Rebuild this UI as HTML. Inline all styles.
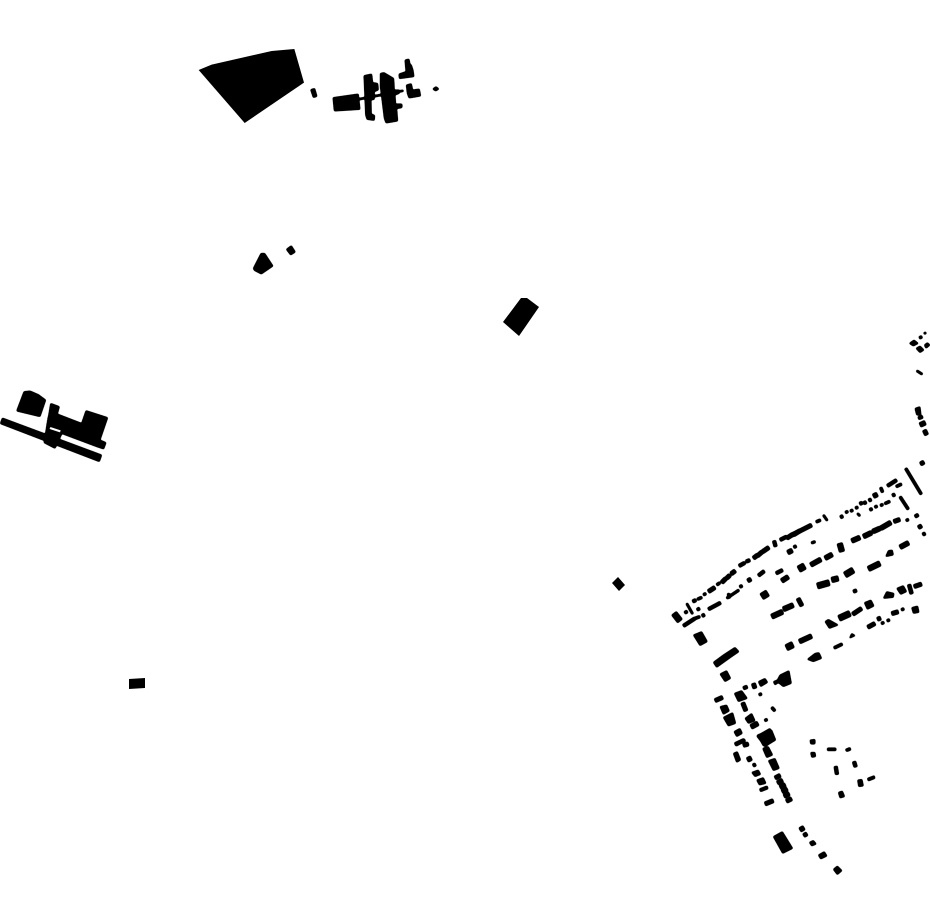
<!DOCTYPE html>
<html><head><meta charset="utf-8"><title>Figure-ground map</title>
<style>html,body{margin:0;padding:0;background:#fff;width:930px;height:924px;overflow:hidden}svg{display:block}path{fill:none;stroke:#000}polygon{fill:#000}</style></head>
<body>
<svg width="930" height="924" viewBox="0 0 930 924" xmlns="http://www.w3.org/2000/svg">
<defs><filter id="grow" filterUnits="userSpaceOnUse" x="0" y="0" width="930" height="924" color-interpolation-filters="sRGB"><feGaussianBlur stdDeviation="0.7"/><feComponentTransfer><feFuncA type="linear" slope="4" intercept="-0.4"/></feComponentTransfer></filter></defs>
<rect width="930" height="924" fill="#fff"/>
<polygon points="612,583 618,577 625,585 619,591"/>
<polygon points="129,679 145,678 145,688 129,689"/>
<polygon points="503,322 521,298 527,298 539,307 519,336"/>
<g transform="translate(190,40) scale(.33333)">
<polygon points="26,90 65,74 245,33 313,27 342,128 164,249"/>
</g>

<g filter="url(#grow)">
<g transform="translate(190,40) scale(.33333)">
<polygon points="362,149 374,145 381,169 370,173"/>
<polygon points="429,173 505,162 510,208 433,213"/>
<path d="M505 178L640 152" stroke-width="5"/>
<polygon points="522,107 545,102 548,128 563,130 565,150 553,155 553,178 543,180 544,222 554,226 553,241 531,238 527,225"/>
<polygon points="571,100 582,98 611,115 613,150 628,150 628,160 615,165 617,192 636,192 636,203 620,206 623,243 588,249 583,235 576,178 571,140"/>
<polygon points="645,60 657,57 660,72 664,75 669,90 672,110 628,116 627,102 648,95"/>
<polygon points="649,135 664,131 668,150 688,147 692,168 657,174 652,160"/>
<polygon points="728,147 738,140 747,147 737,153"/>
<polygon points="190,685 213,640 224,640 249,678 214,702 193,691"/>
<polygon points="289,628 304,617 316,636 302,645"/>
</g>

<g transform="translate(0,380) scale(.33333)">
<polygon points="7,114 305,225 298,245 1,131"/>
<polygon points="72,35 90,33 115,44 137,60 120,110 50,93"/>
<polygon points="152,70 178,80 172,102 245,130 258,92 323,113 300,180 318,188 311,207 290,200 192,163 140,140 148,95"/>
<polygon points="145,110 200,130 165,205 132,188"/>
</g>

<g transform="translate(670,510) scale(.33333)">
<path d="M12 310L30 333" stroke-width="18"/>
<path d="M50 280L68 312" stroke-width="6"/>
<path d="M44 309L52 304" stroke-width="9"/>
<path d="M81 300L89 295" stroke-width="9"/>
<path d="M68 275L78 270" stroke-width="10"/>
<path d="M82 268L96 262" stroke-width="8"/>
<path d="M100 255L108 250" stroke-width="8"/>
<path d="M115 245L135 232" stroke-width="12"/>
<path d="M140 225L150 218" stroke-width="8"/>
<path d="M155 218L168 205" stroke-width="12"/>
<path d="M170 205L180 195" stroke-width="12"/>
<path d="M183 192L196 182" stroke-width="12"/>
<path d="M207 168L225 158" stroke-width="10"/>
<path d="M228 155L240 150" stroke-width="10"/>
<path d="M250 145L263 135" stroke-width="12"/>
<path d="M262 138L277 125" stroke-width="12"/>
<path d="M278 125L297 112" stroke-width="12"/>
<path d="M312 92L317 110" stroke-width="10"/>
<path d="M330 90L350 80" stroke-width="10"/>
<path d="M350 85L370 72" stroke-width="12"/>
<path d="M370 75L390 62" stroke-width="12"/>
<path d="M40 348L75 325" stroke-width="10"/>
<path d="M75 325L90 320" stroke-width="8"/>
<path d="M96 318L104 314" stroke-width="10"/>
<path d="M115 298L152 278" stroke-width="10"/>
<path d="M170 265L207 240" stroke-width="7"/>
<path d="M175 250L178 265" stroke-width="7"/>
<path d="M209 231L217 227" stroke-width="9"/>
<path d="M233 213L243 207" stroke-width="12"/>
<path d="M265 197L283 183" stroke-width="10"/>
<path d="M318 190L338 180" stroke-width="10"/>
<path d="M335 213L355 200" stroke-width="14"/>
<path d="M353 128L367 121" stroke-width="14"/>
<path d="M371 112L379 108" stroke-width="9"/>
<path d="M275 260L293 249" stroke-width="20"/>
</g>

<g transform="translate(790,460) scale(.33333)">
<path d="M347 25L394 103" stroke-width="8"/>
<path d="M330 110L355 148" stroke-width="8"/>
<path d="M292 78L320 60" stroke-width="10"/>
<path d="M318 80L335 72" stroke-width="8"/>
<path d="M391 12L400 8" stroke-width="10"/>
<path d="M151 172L159 168" stroke-width="10"/>
<path d="M166 158L174 154" stroke-width="8"/>
<path d="M181 154L189 150" stroke-width="8"/>
<path d="M196 145L204 141" stroke-width="8"/>
<path d="M209 132L217 128" stroke-width="10"/>
<path d="M221 130L229 126" stroke-width="10"/>
<path d="M236 122L244 118" stroke-width="10"/>
<path d="M250 109L262 103" stroke-width="14"/>
<path d="M272 82L278 97" stroke-width="8"/>
<path d="M202 160L210 168" stroke-width="6"/>
<path d="M239 150L247 146" stroke-width="9"/>
<path d="M254 142L262 138" stroke-width="8"/>
<path d="M271 137L279 133" stroke-width="8"/>
<path d="M284 131L300 124" stroke-width="8"/>
<path d="M307 107L315 103" stroke-width="10"/>
<path d="M185 243L210 232" stroke-width="14"/>
<path d="M220 230L245 218" stroke-width="14"/>
<path d="M248 215L270 205" stroke-width="14"/>
<path d="M272 205L303 187" stroke-width="14"/>
<path d="M311 185L330 178" stroke-width="12"/>
<path d="M348 182L356 178" stroke-width="8"/>
<path d="M375 170L385 164" stroke-width="10"/>
<path d="M385 203L395 197" stroke-width="12"/>
<path d="M398 224L406 220" stroke-width="10"/>
<path d="M149 250L156 275" stroke-width="16"/>
<path d="M105 295L127 283" stroke-width="14"/>
<path d="M62 315L93 298" stroke-width="14"/>
<path d="M26 328L44 318" stroke-width="20"/>
<path d="M0 228L65 195" stroke-width="12"/>
<path d="M78 186L92 180" stroke-width="8"/>
<path d="M100 165L112 182" stroke-width="6"/>
<path d="M64 249L76 245" stroke-width="7"/>
<path d="M330 262L356 248" stroke-width="14"/>
<polygon points="287,290 295,272 307,270 310,285"/>
<path d="M235 327L270 310" stroke-width="16"/>
</g>

<g transform="translate(770,570) scale(.33333)">
<path d="M142 48L178 38" stroke-width="18"/>
<path d="M185 30L205 25" stroke-width="16"/>
<path d="M225 15L250 0" stroke-width="18"/>
<path d="M250 65L260 61" stroke-width="10"/>
<path d="M5 140L38 125" stroke-width="15"/>
<path d="M40 118L70 105" stroke-width="15"/>
<path d="M84 85L96 108" stroke-width="12"/>
<polygon points="340,85 350,65 372,70 370,82"/>
<polygon points="380,55 400,47 410,65 392,73"/>
<polygon points="412,45 422,42 430,70 420,73"/>
<path d="M432 50L455 42" stroke-width="12"/>
<polygon points="425,113 443,108 447,127 430,130"/>
<path d="M365 131L385 125" stroke-width="12"/>
<path d="M394 120L402 116" stroke-width="8"/>
<polygon points="165,155 175,148 205,165 178,175"/>
<path d="M207 145L240 130" stroke-width="18"/>
<path d="M248 133L275 115" stroke-width="12"/>
<polygon points="283,98 303,90 312,108 292,118"/>
<path d="M293 172L315 160" stroke-width="12"/>
<path d="M322 148L332 144" stroke-width="12"/>
<path d="M334 161L342 157" stroke-width="8"/>
<path d="M351 153L359 149" stroke-width="8"/>
<polygon points="45,225 65,215 73,232 53,242"/>
<path d="M88 215L125 198" stroke-width="14"/>
<path d="M192 234L217 222" stroke-width="8"/>
<polygon points="238,205 245,190 256,197"/>
<polygon points="112,268 135,250 147,248 155,265 130,275"/>
</g>

<g transform="translate(690,630) scale(.33333)">
<polygon points="10,15 35,5 52,35 30,47"/>
<polygon points="70,97 100,75 135,52 147,65 125,80 80,112"/>
<polygon points="90,132 110,122 122,145 105,155"/>
<polygon points="250,155 262,150 270,135 297,122 304,160 280,170 265,158 255,165"/>
<path d="M160 175L172 170" stroke-width="10"/>
<path d="M190 160L195 175" stroke-width="12"/>
<polygon points="205,155 225,145 233,157 212,170"/>
<polygon points="133,190 155,182 172,205 145,215"/>
<path d="M207 195L215 191" stroke-width="8"/>
<path d="M75 212L98 202" stroke-width="12"/>
<polygon points="90,230 110,225 118,243 100,253"/>
<polygon points="100,262 128,248 137,280 115,288"/>
<path d="M158 218L168 243" stroke-width="12"/>
<path d="M245 232L255 243" stroke-width="8"/>
<polygon points="165,265 185,250 195,272 175,280"/>
<path d="M183 291L204 280" stroke-width="14"/>
<path d="M224 272L232 268" stroke-width="8"/>
<polygon points="132,305 150,295 157,310 140,320"/>
<path d="M135 343L163 330" stroke-width="10"/>
<path d="M160 347L175 343" stroke-width="10"/>
<polygon points="200,318 240,295 257,330 225,350"/>
</g>

<g transform="translate(720,730) scale(.33333)">
<path d="M47 45L75 30" stroke-width="8"/>
<path d="M70 47L85 40" stroke-width="10"/>
<polygon points="40,70 52,65 62,90 50,97"/>
<polygon points="112,15 155,0 167,30 130,48"/>
<polygon points="128,55 145,50 158,75 140,83"/>
<polygon points="145,92 165,85 178,115 160,122"/>
<path d="M82 90L94 84" stroke-width="14"/>
<path d="M99 107L107 103" stroke-width="10"/>
<polygon points="95,127 115,120 122,133 105,140"/>
<polygon points="110,150 130,143 138,160 118,165"/>
<path d="M120 181L143 172" stroke-width="9"/>
<path d="M135 222L160 212" stroke-width="12"/>
<path d="M165 144L181 136" stroke-width="12"/>
<path d="M172 159L188 151" stroke-width="12"/>
<path d="M180 172L196 164" stroke-width="12"/>
<path d="M186 185L202 177" stroke-width="12"/>
<path d="M192 199L208 191" stroke-width="12"/>
<path d="M199 214L215 206" stroke-width="12"/>
<polygon points="270,30 285,28 285,42 272,42"/>
<polygon points="272,67 285,67 287,80 275,82"/>
<polygon points="322,54 348,54 348,62 322,62"/>
<polygon points="376,58 390,52 393,60 380,65"/>
<polygon points="397,96 407,93 412,110 402,112"/>
<polygon points="342,110 352,108 356,133 346,134"/>
<polygon points="413,150 426,148 430,168 416,170"/>
<polygon points="442,145 463,137 465,145 445,153"/>
<polygon points="355,187 367,183 374,200 360,204"/>
<path d="M240 300L252 293" stroke-width="14"/>
<path d="M251 317L261 311" stroke-width="12"/>
<polygon points="268,337 280,331 289,342 275,348"/>
<polygon points="295,375 313,365 321,378 302,387"/>
<polygon points="340,418 352,408 366,422 352,434"/>
<polygon points="160,320 187,305 218,355 188,370"/>
</g>

<g transform="translate(890,320) scale(.33333)">
<polygon points="58,70 72,60 85,70 70,78"/>
<polygon points="78,85 90,78 102,90 90,98"/>
<path d="M88 54L96 50" stroke-width="8"/>
<path d="M102 41L108 38" stroke-width="6"/>
<polygon points="103,75 112,68 120,75 108,85"/>
<path d="M80 152L97 163" stroke-width="6"/>
<polygon points="75,265 90,260 93,285 80,285"/>
<path d="M85 295L98 290" stroke-width="9"/>
<path d="M90 315L106 308" stroke-width="14"/>
<path d="M103 330L110 345" stroke-width="12"/>
<path d="M92 432L102 426" stroke-width="12"/>
</g>
</g>
<g transform="translate(0,380) scale(.33333)"><polygon points="151,141 182,151 180,157 149,147" style="fill:#fff"/></g>
</svg>
</body></html>
